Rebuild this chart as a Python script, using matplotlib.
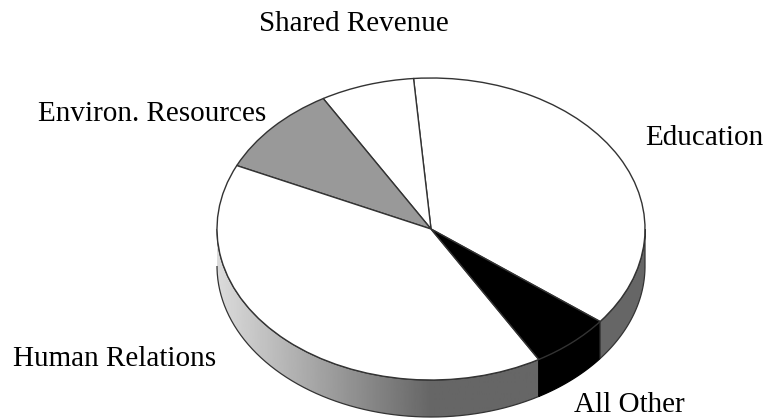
import numpy as np
import matplotlib
matplotlib.use('Agg')
import matplotlib.pyplot as plt
from matplotlib.path import Path
from matplotlib.patches import PathPatch

labels = ['Education', 'Shared Revenue', 'Environ. Resources', 'Human Relations', 'All Other']
values = [36.8, 7.1, 9.7, 40.3, 6.1]
colors = ['white', 'white', '#999999', 'white', 'black']

W, H = 767, 419
CX, CY, RX, RY, DEPTH = 431, 229, 214, 151, 37
START = -37.8

# label anchors in pixels (left, baseline)
label_pos = {'Education': (645, 145), 'Shared Revenue': (259, 31),
             'Environ. Resources': (38, 121), 'Human Relations': (13, 366),
             'All Other': (574, 412)}

plt.rcParams['font.family'] = ['Liberation Serif', 'DejaVu Serif']

fig = plt.figure(figsize=(W / 100, H / 100), dpi=100)
ax = fig.add_axes([0, 0, 1, 1])

# slice boundaries in degrees, from the values
edges = START + np.cumsum([0] + values) / sum(values) * 360
dz = DEPTH / RY


def wall(a0, a1):
    t = np.radians(np.linspace(a0, a1, 120))
    x, y = np.cos(t), np.sin(t)
    return np.r_[x, x[::-1]], np.r_[y, y[::-1] - dz]


# front wall: left part has a grey gradient, then dark grey
hum_end = edges[4]
other_end = edges[5]
wx, wy = wall(180, hum_end)
grad = np.interp(np.linspace(-1, 1, 400), [-1, 0, 1], [0.86, 0.40, 0.40])[None, :]
im = ax.imshow(grad, cmap='gray', vmin=0, vmax=1, extent=(-1, 1, -2, 2), aspect='auto', zorder=1)
clip = PathPatch(Path(np.c_[wx, wy]), transform=ax.transData, fc='none', ec='#333333', lw=0.9, zorder=2)
ax.add_patch(clip)
im.set_clip_path(clip)
wx, wy = wall(hum_end, other_end)
ax.fill(wx, wy, fc='black', ec='black', lw=0.9, zorder=2)
wx, wy = wall(other_end, 360)
ax.fill(wx, wy, fc='#666666', ec='#333333', lw=0.9, zorder=2)

ax.pie(values, colors=colors, startangle=START, counterclock=True,
       wedgeprops={'edgecolor': '#333333', 'linewidth': 1.0, 'zorder': 3})

ax.set_aspect('auto')
ax.set_xlim((0 - CX) / RX, (W - CX) / RX)
ax.set_ylim((CY - H) / RY, CY / RY)
ax.axis('off')

for name in labels:
    x, y = label_pos[name]
    fig.text(x / W, 1 - y / H, name, fontsize=21, va='baseline', ha='left', color='black')

fig.savefig('out.png', dpi=100)
